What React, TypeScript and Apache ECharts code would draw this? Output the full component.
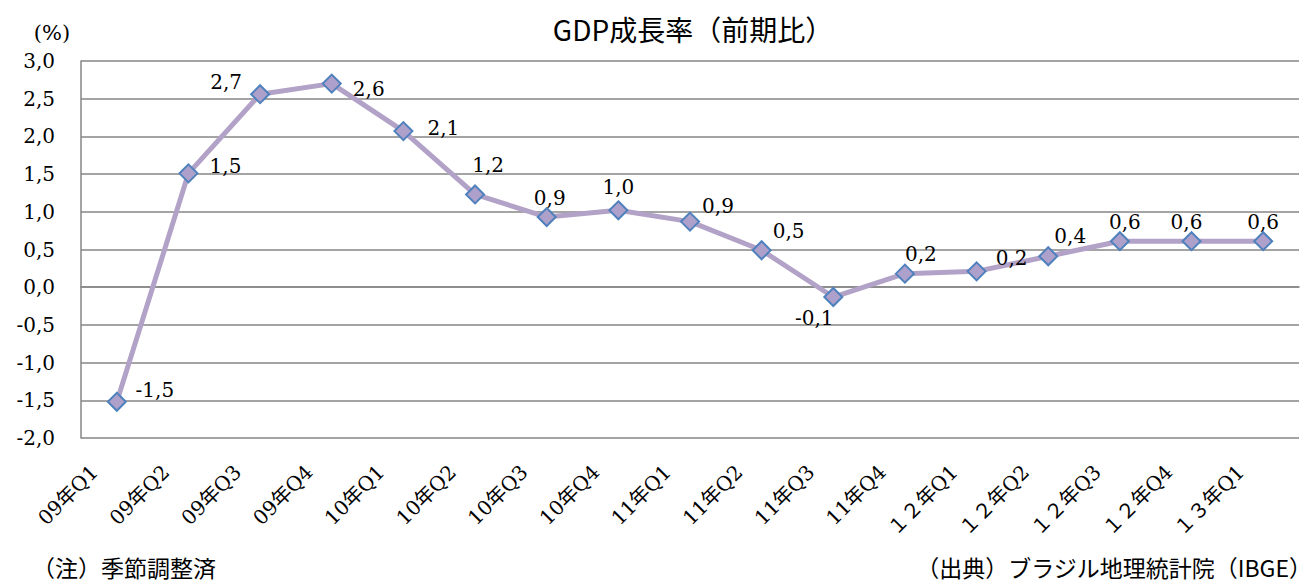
import React, { useEffect, useRef } from "react";
import * as echarts from "echarts";

const categories = [
  "09年Q1", "09年Q2", "09年Q3", "09年Q4",
  "10年Q1", "10年Q2", "10年Q3", "10年Q4",
  "11年Q1", "11年Q2", "11年Q3", "11年Q4",
  "１２年Q1", "１２年Q2", "１２年Q3", "１２年Q4", "１３年Q1",
];
// plotted values
const values = [-1.52, 1.51, 2.56, 2.7, 2.07, 1.23, 0.93, 1.02, 0.87, 0.49, -0.13, 0.18, 0.21, 0.41, 0.61, 0.61, 0.61];
// data label texts as printed on the picture
const labelTexts = ["-1,5", "1,5", "2,7", "2,6", "2,1", "1,2", "0,9", "1,0", "0,9", "0,5", "-0,1", "0,2", "0,2", "0,4", "0,6", "0,6", "0,6"];
// label offsets (style) relative to each marker
const labelOffsets: [number, number][] = [
  [38, -12], [37, -7], [-34, -12], [37, 5], [40, -3], [13, -29], [3, -19], [0, -23], [28, -16],
  [27, -19], [-19, 21], [16, -20], [35, -13], [22, -20], [5, -19], [-5, -19], [0, -19],
];
const yTicks = { min: -2, max: 3, interval: 0.5 };

const serif = "'DejaVu Serif', 'Noto Sans CJK JP', serif";
const cjk = "'Noto Sans CJK JP', sans-serif";

export default function App() {
  const ref = useRef<HTMLDivElement>(null);
  useEffect(() => {
    if (!ref.current) return;
    const chart = echarts.init(ref.current, undefined, { renderer: "svg" });
    chart.setOption({
      animation: false,
      backgroundColor: "#fff",
      grid: { left: 81, right: 15, top: 61, bottom: 147, containLabel: false },
      graphic: [
        { type: "text", x: 693, y: 29, style: { text: "GDP成長率（前期比）", fontFamily: cjk, fontSize: 28, fill: "#000", align: "center", verticalAlign: "middle" } },
        { type: "text", x: 52, y: 33, style: { text: "(%)", fontFamily: serif, fontSize: 21, fill: "#000", align: "center", verticalAlign: "middle" } },
        { type: "text", x: 32, y: 567, style: { text: "（注）季節調整済", fontFamily: cjk, fontSize: 23, fill: "#000", align: "left", verticalAlign: "middle" } },
        { type: "text", x: 1312, y: 567, style: { text: "（出典）ブラジル地理統計院（IBGE）", fontFamily: cjk, fontSize: 23, fill: "#000", align: "right", verticalAlign: "middle" } },
      ],
      xAxis: {
        type: "category",
        data: categories,
        boundaryGap: true,
        axisLine: { show: true, lineStyle: { color: "#868686", width: 1.5 } },
        axisTick: { show: false },
        axisLabel: {
          rotate: 45,
          interval: 0,
          margin: 8,
          padding: [0, 32, 0, 0],
          fontFamily: serif,
          fontSize: 20,
          color: "#000",
        },
      },
      yAxis: {
        type: "value",
        min: yTicks.min,
        max: yTicks.max,
        interval: yTicks.interval,
        axisLine: { show: true, lineStyle: { color: "#868686", width: 1.5 } },
        axisTick: { show: false },
        splitLine: { show: true, lineStyle: { color: "#868686", width: 1.5 } },
        axisLabel: {
          margin: 26,
          fontFamily: serif,
          fontSize: 20,
          color: "#000",
          formatter: (v: number) => v.toFixed(1).replace(".", ","),
        },
      },
      series: [
        {
          type: "line",
          data: values.map((v, i) => ({ value: v, label: { offset: labelOffsets[i] } })),
          lineStyle: { color: "#B3A2C7", width: 5 },
          symbol: "diamond",
          symbolSize: 18,
          itemStyle: { color: "#ADA0CA", borderColor: "#4F81BD", borderWidth: 2 },
          label: {
            show: true,
            position: "inside",
            fontFamily: serif,
            fontSize: 20,
            color: "#000",
            formatter: (p: any) => labelTexts[p.dataIndex],
          },
          z: 3,
        },
      ],
    });
    return () => chart.dispose();
  }, []);
  return <div ref={ref} style={{ position: "fixed", left: 0, top: 0, width: 1314, height: 585 }} />;
}
